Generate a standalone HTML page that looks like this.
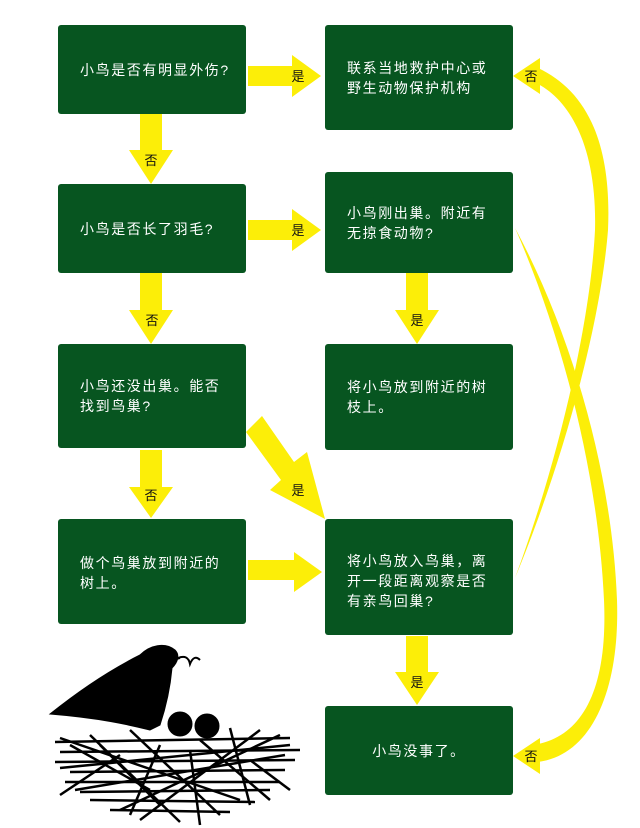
<!DOCTYPE html>
<html><head><meta charset="utf-8"><style>
body{margin:0;width:640px;height:828px;background:#fff;position:relative;overflow:hidden;font-family:"Liberation Sans","Noto Sans CJK SC",sans-serif}
.b{position:absolute;background:#075520;border-radius:3px;color:#fff;font-size:14px;letter-spacing:1.6px;line-height:20px;box-sizing:border-box;padding-left:22px;display:flex;align-items:center}
svg{position:absolute;left:0;top:0}
.l{font-family:"Liberation Sans","Noto Sans CJK SC",sans-serif;font-size:13px;fill:#111}
</style></head><body>
<svg width="640" height="828">
<g fill="#fcee08">
<path d="M248,66H292V55L321,76L292,97V86H248Z"/>
<path d="M248,220H292V209L321,230L292,251V240H248Z"/>
<path d="M248,560H294V552L322,572L294,592V580H248Z"/>
<path d="M140,114H162V150H173L151,184L129,150H140Z"/>
<path d="M140,273H162V310H173L151,344L129,310H140Z"/>
<path d="M140,450H162V487H173L151,518L129,487H140Z"/>
<path d="M406,273H428V310H439L417,344L395,310H406Z"/>
<path d="M406,636H428V672H439L417,705L395,672H406Z"/>
<path d="M246,432L262,416L294,462L307,452L325,519L270,490L281,480Z"/>
<path d="M515,578C560,470 600,330 608,230C612,140 585,90 538,68L538,84C572,102 597,150 595,230C590,330 555,470 515,578Z"/>
<polygon points="513,76 540,58 540,94"/>
<path d="M515,228C560,330 598,470 604,600C608,690 582,735 538,744L538,762C592,755 620,690 617,600C612,470 570,330 515,228Z"/>
<polygon points="513,756 540,738 540,774"/>
</g>
<g class="l" text-anchor="middle">
<text x="298" y="81">是</text>
<text x="298" y="235">是</text>
<text x="151" y="165">否</text>
<text x="152" y="325">否</text>
<text x="151" y="500">否</text>
<text x="417" y="325">是</text>
<text x="298" y="495">是</text>
<text x="417" y="687">是</text>
<text x="531" y="81">否</text>
<text x="531" y="761">否</text>
</g>
<g fill="#000" stroke="#000">
<path d="M50,714C80,690 110,670 140,655C150,645 165,642 175,650C180,655 178,662 172,668C170,690 165,710 160,725L150,730C130,725 100,718 50,714Z"/>
<circle cx="180" cy="724" r="12"/><circle cx="207" cy="726" r="12"/>
<path d="M172,660l8,-2" stroke-width="2"/>
<path d="M178,658q10,-4 12,6q4,-10 10,-4" fill="none" stroke-width="2"/>
<g stroke-width="2.5" fill="none">
<path d="M55,742L290,738"/><path d="M60,752L300,750"/><path d="M55,762L295,760"/>
<path d="M70,772L285,770"/><path d="M65,782L280,782"/><path d="M80,792L270,790"/>
<path d="M90,800L255,802"/><path d="M110,810L230,812"/><path d="M60,738L240,800"/>
<path d="M130,730L220,815"/><path d="M280,735L120,810"/><path d="M260,730L140,820"/>
<path d="M90,735L180,822"/><path d="M230,728L250,805"/><path d="M70,745L150,790"/>
<path d="M60,768L290,745"/><path d="M75,790L285,755"/><path d="M100,745L160,805"/>
<path d="M200,740L270,800"/><path d="M160,745L130,815"/><path d="M190,750L200,825"/>
<path d="M120,755L60,795"/><path d="M250,760L290,790"/>
</g>
</g>
</svg>
<div class="b" style="left:58px;top:25px;width:188px;height:89px">小鸟是否有明显外伤?</div>
<div class="b" style="left:325px;top:25px;width:188px;height:105px">联系当地救护中心或<br>野生动物保护机构</div>
<div class="b" style="left:58px;top:184px;width:188px;height:89px">小鸟是否长了羽毛?</div>
<div class="b" style="left:325px;top:172px;width:188px;height:101px">小鸟刚出巢。附近有<br>无掠食动物?</div>
<div class="b" style="left:58px;top:344px;width:188px;height:104px">小鸟还没出巢。能否<br>找到鸟巢?</div>
<div class="b" style="left:325px;top:344px;width:188px;height:106px">将小鸟放到附近的树<br>枝上。</div>
<div class="b" style="left:58px;top:519px;width:188px;height:105px;align-items:flex-start;padding-top:34px">做个鸟巢放到附近的<br>树上。</div>
<div class="b" style="left:325px;top:519px;width:188px;height:116px;align-items:flex-start;padding-top:32px">将小鸟放入鸟巢，离<br>开一段距离观察是否<br>有亲鸟回巢?</div>
<div class="b" style="left:325px;top:706px;width:188px;height:89px;justify-content:center;padding-left:0">小鸟没事了。</div>
</body></html>
